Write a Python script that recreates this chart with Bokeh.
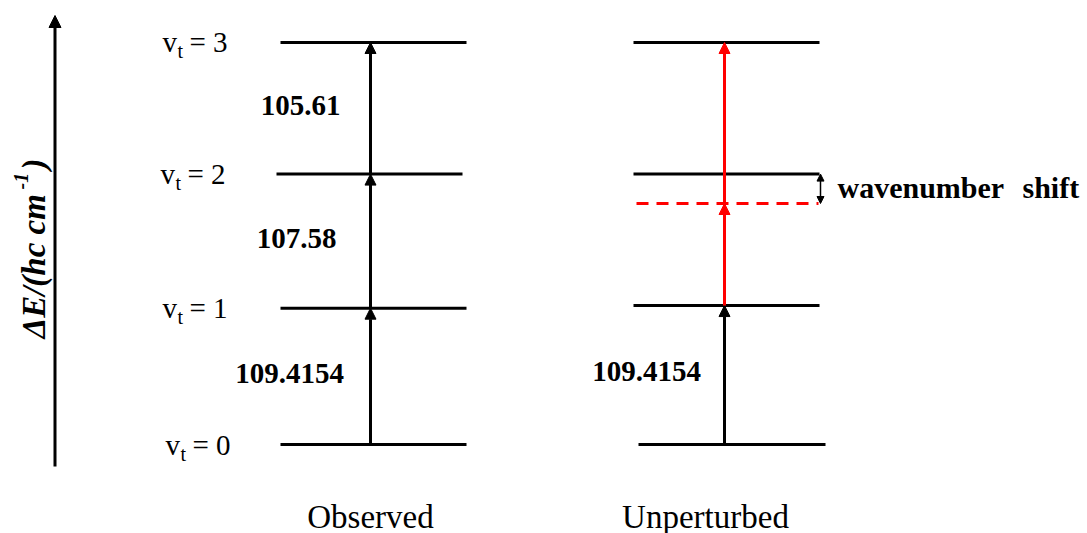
import math
from bokeh.plotting import figure
from bokeh.models import Range1d, Label, Arrow, NormalHead
from bokeh.embed import file_html
from bokeh.resources import INLINE

# ---------------- data ----------------
level_names = ["0", "1", "2", "3"]
observed_gaps = [109.4154, 107.58, 105.61]           # v0->v1, v1->v2, v2->v3
observed_gap_labels = ["109.4154", "107.58", "105.61"]
observed_levels = [0.0, 109.4154, 216.9954, 322.6054]
unperturbed_levels = [0.0, 111.5, 217.0, 322.6]        # drawn positions
unperturbed_shift_level = 193.4                        # red dashed (unperturbed v2)
unperturbed_gap_label = "109.4154"
column_names = ["Observed", "Unperturbed"]

# ---------------- layout helpers ----------------
K = 0.8025          # energy units per pixel
Y0PX = 444          # image row of the v=0 level


def e_at(img_y):
    return (Y0PX - img_y) * K


SERIF = "Liberation Serif"
W, H = 1087, 533

p = figure(width=W, height=H, x_range=Range1d(0, W),
           y_range=Range1d(e_at(H), e_at(0)),
           output_backend="svg", toolbar_location=None,
           x_axis_location=None, y_axis_location=None, min_border=0)
p.grid.visible = False
p.outline_line_color = None
p.background_fill_color = "white"
p.border_fill_color = "white"

# level line extents (layout)
obs_x0 = [280, 280, 276, 280]
obs_x1 = [466, 466, 462, 466]
unp_x0 = [638, 633, 633, 633]
unp_x1 = [825, 819, 819, 819]
OBS_ARROW_X = 370
UNP_ARROW_X = 724

p.segment(x0=obs_x0, x1=obs_x1, y0=observed_levels, y1=observed_levels,
          line_color="black", line_width=3)
p.segment(x0=unp_x0, x1=unp_x1, y0=unperturbed_levels, y1=unperturbed_levels,
          line_color="black", line_width=3)
p.segment(x0=[636], x1=[818], y0=[unperturbed_shift_level], y1=[unperturbed_shift_level],
          line_color="#ff0000", line_width=3, line_dash="12 8")


def arrow(x, y0, y1, color, size=11, width=3):
    p.add_layout(Arrow(end=NormalHead(size=size, fill_color=color, line_color=color, line_width=1),
                       x_start=x, y_start=y0, x_end=x, y_end=y1,
                       line_color=color, line_width=width))


# observed transitions
for i in range(3):
    arrow(OBS_ARROW_X, observed_levels[i], observed_levels[i + 1], "black")
# unperturbed transitions
arrow(UNP_ARROW_X, unperturbed_levels[0], unperturbed_levels[1], "black")
arrow(UNP_ARROW_X, unperturbed_levels[1], unperturbed_shift_level, "#ff0000")
arrow(UNP_ARROW_X, unperturbed_shift_level, unperturbed_levels[3], "#ff0000")

# wavenumber shift double arrow
p.add_layout(Arrow(start=NormalHead(size=7, fill_color="black", line_color="black", line_width=1),
                   end=NormalHead(size=7, fill_color="black", line_color="black", line_width=1),
                   x_start=820, y_start=unperturbed_levels[2], x_end=820, y_end=unperturbed_shift_level,
                   line_color="black", line_width=1.5))

# energy axis arrow
p.add_layout(Arrow(end=NormalHead(size=12, fill_color="black", line_color="black", line_width=1),
                   x_start=54.5, y_start=e_at(466), x_end=54.5, y_end=e_at(15),
                   line_color="black", line_width=3))


def lab(x, y, text, size, style="normal", align="left", angle=0.0):
    p.add_layout(Label(x=x, y=y, text=text, text_font=SERIF, text_font_size=f"{size}px",
                       text_font_style=style, text_align=align, text_baseline="middle",
                       text_color="black", angle=angle))


# axis title (rotated; x is the middle line of the rotated text)
lab(33, e_at(338), "ΔE/(hc cm", 33, "bold italic", angle=math.pi / 2)
lab(20, e_at(189), "-1", 20, "bold italic", angle=math.pi / 2)
lab(33, e_at(169), ")", 33, "bold italic", angle=math.pi / 2)

# level labels v_t = n
v_left = [165, 162, 160, 162]
for i, name in enumerate(level_names):
    yl = observed_levels[i]
    lab(v_left[i], yl, "v", 29)
    lab(v_left[i] + 15, yl - 9 * K, "t", 20)
    lab(v_left[i] + 27, yl, "= " + name, 29)

# observed gap labels
obs_label_x = [289, 296, 300]
for i in range(3):
    mid = (observed_levels[i] + observed_levels[i + 1]) / 2
    lab(obs_label_x[i], mid + 3 * K, observed_gap_labels[i], 29, "bold", align="center")

# unperturbed gap label
mid = (unperturbed_levels[0] + unperturbed_levels[1]) / 2
lab(646, mid + 4 * K, unperturbed_gap_label, 29, "bold", align="center")

# wavenumber shift text
lab(837, e_at(187), "wavenumber", 30, "bold")
lab(1022, e_at(187), "shift", 30, "bold")

# column titles
lab(370, e_at(516), column_names[0], 33, align="center")
lab(705, e_at(516), column_names[1], 33, align="center")

open("out.html", "w").write(file_html(p, INLINE))
